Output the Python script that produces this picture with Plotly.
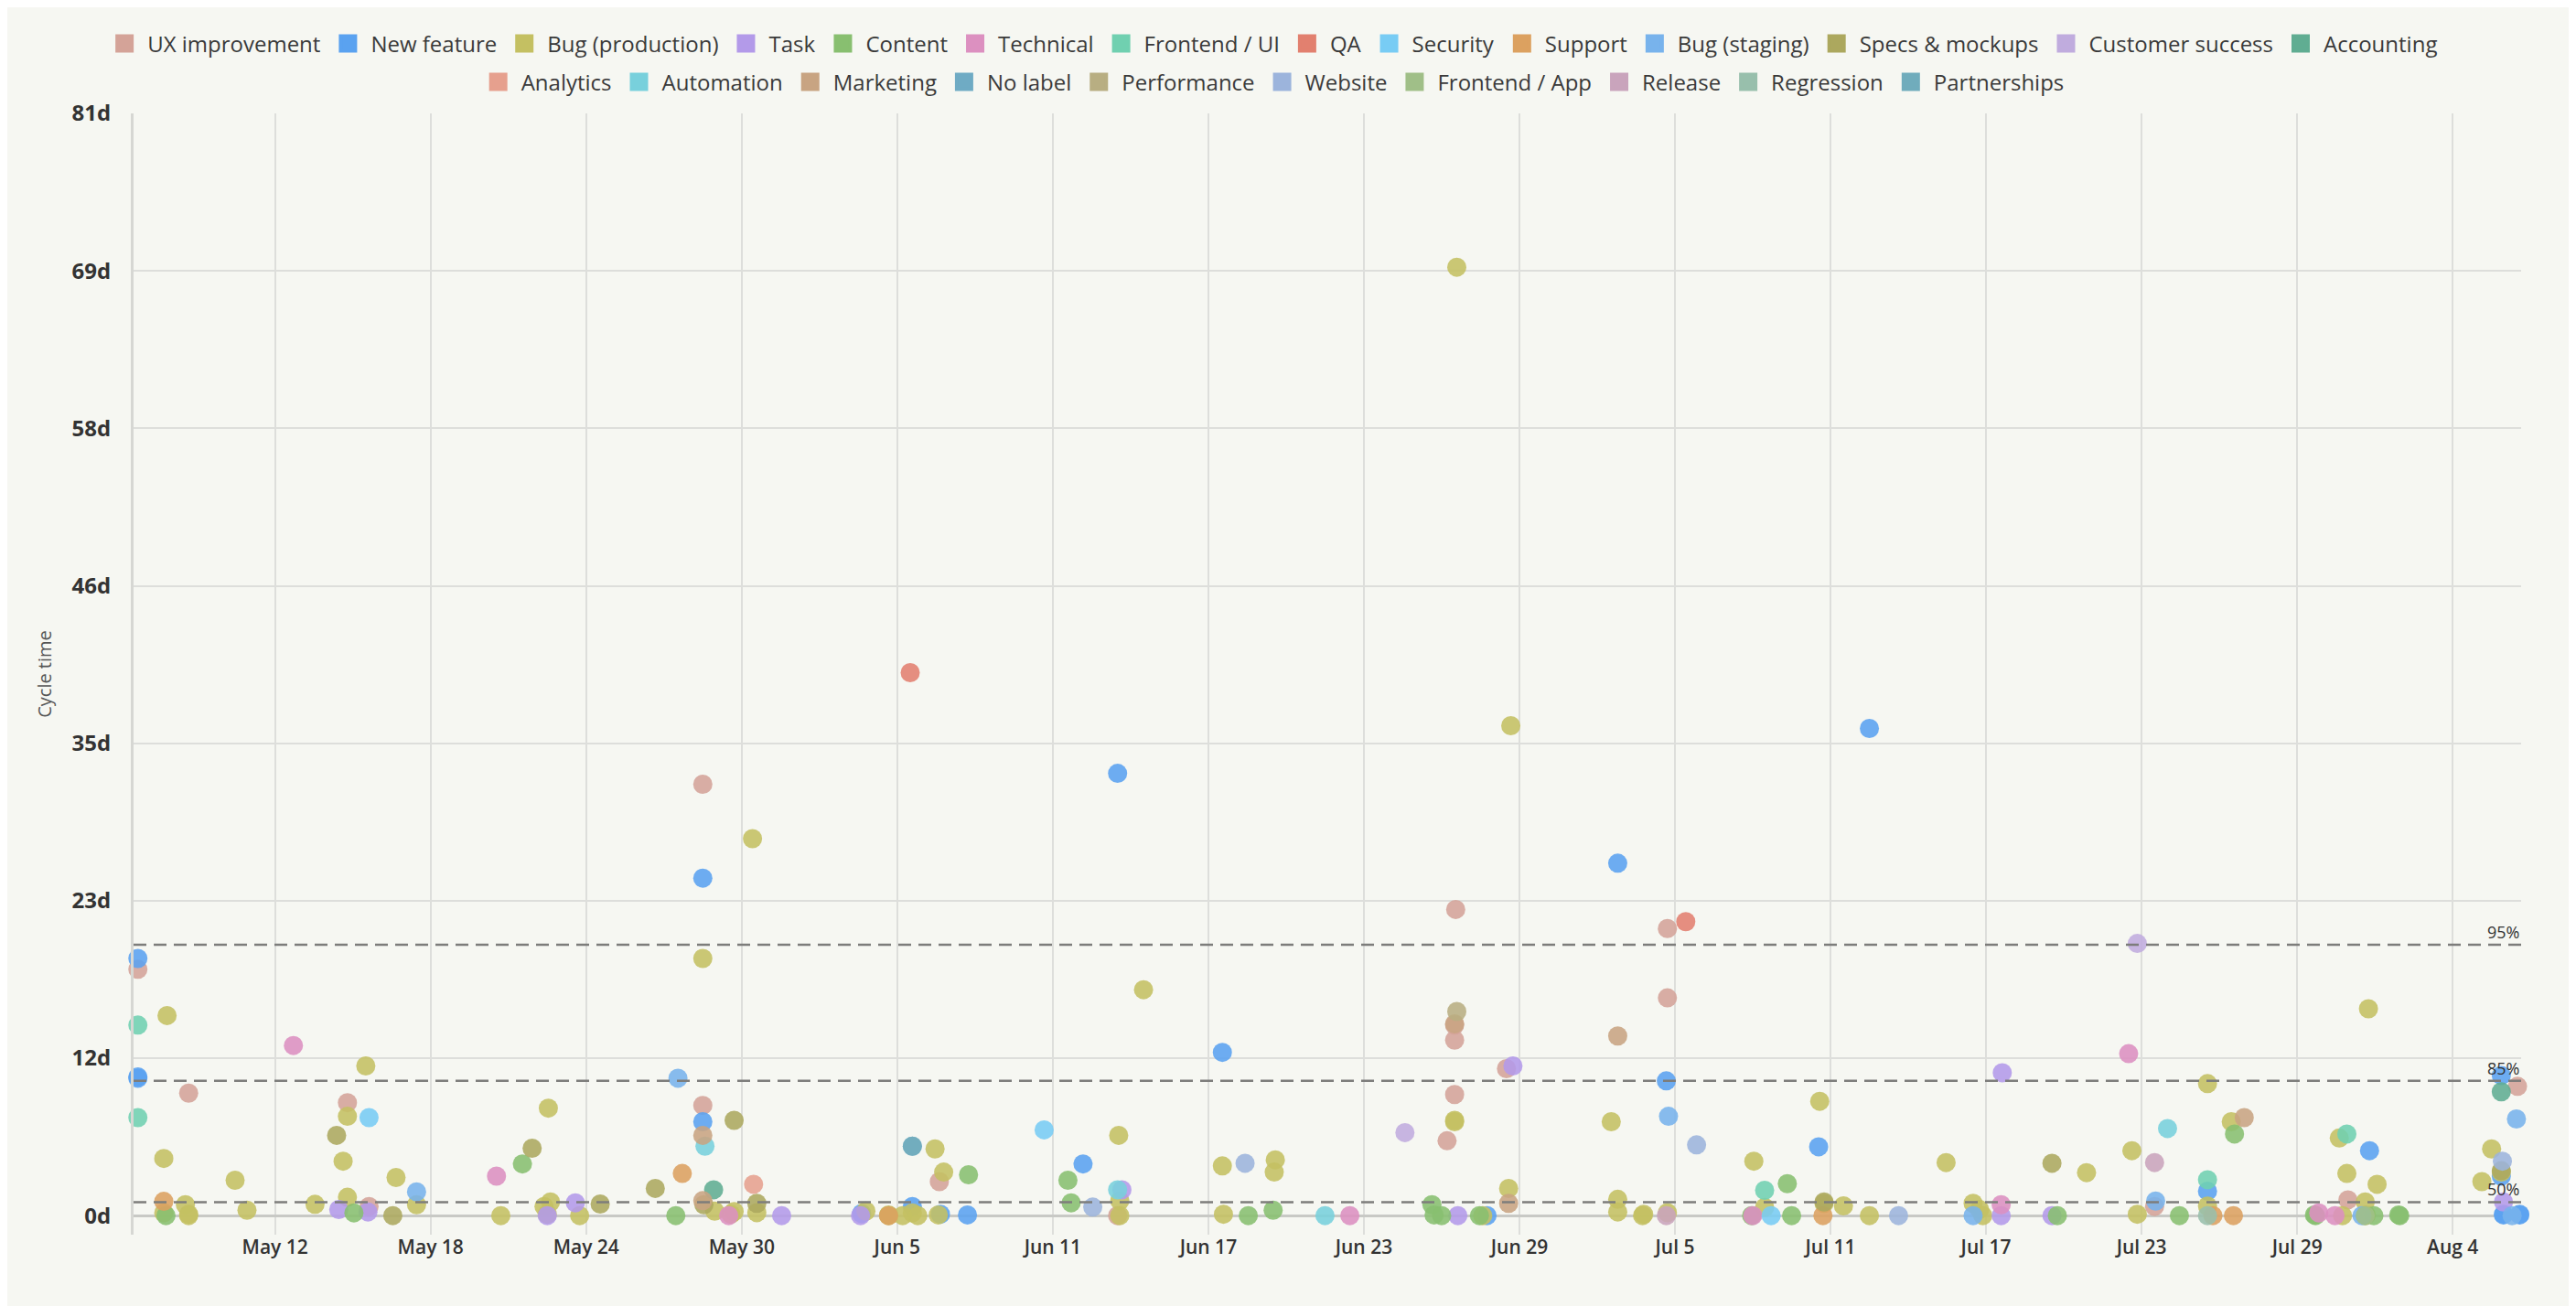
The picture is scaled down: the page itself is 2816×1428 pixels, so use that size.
import plotly.graph_objects as go

# ---------------- data (date finished, cycle time in days) ----------------
UX_IMPROVEMENT = [
    ("2025-05-06 17:00", 18.1), ("2025-05-08 16:00", 9.0), ("2025-05-14 19:00", 8.3),
    ("2025-05-15 15:00", 0.67), ("2025-05-28 12:00", 8.1), ("2025-05-28 12:00", 31.7),
    ("2025-06-06 15:00", 2.5), ("2025-06-13 12:00", 0.0), ("2025-06-26 05:00", 5.5),
    ("2025-06-26 12:00", 8.9), ("2025-06-26 12:00", 12.9), ("2025-06-26 12:00", 14.0),
    ("2025-06-26 13:00", 22.5), ("2025-06-28 12:00", 10.8), ("2025-07-04 17:00", 21.1),
    ("2025-07-04 17:00", 16.0), ("2025-07-23 12:00", 0.67), ("2025-07-30 23:00", 1.16),
    ("2025-08-06 12:00", 9.5),
]
NEW_FEATURE = [
    ("2025-05-06 17:00", 18.9), ("2025-05-06 17:00", 10.1), ("2025-05-06 17:00", 10.2),
    ("2025-05-28 12:00", 6.9), ("2025-05-28 12:00", 24.8), ("2025-06-03 15:00", 0.15),
    ("2025-06-05 14:00", 0.67), ("2025-06-06 16:00", 0.1), ("2025-06-07 17:00", 0.05),
    ("2025-06-12 04:00", 3.8), ("2025-06-13 12:00", 32.5), ("2025-06-17 13:00", 12.0),
    ("2025-06-27 18:00", 0.0), ("2025-07-02 19:00", 25.9), ("2025-07-04 16:00", 9.9),
    ("2025-07-10 13:00", 5.06), ("2025-07-12 12:00", 35.8), ("2025-07-25 13:00", 1.8),
    ("2025-07-31 19:00", 4.77), ("2025-08-05 21:00", 10.3), ("2025-08-05 21:00", 2.9),
    ("2025-08-05 23:00", 0.1), ("2025-08-05 23:00", 0.05), ("2025-08-06 14:00", 0.1),
    ("2025-08-06 14:00", 0.05),
]
BUG_PRODUCTION = [
    ("2025-05-07 20:00", 14.7), ("2025-05-07 17:00", 4.2), ("2025-05-07 17:00", 0.2),
    ("2025-05-08 13:00", 0.8), ("2025-05-08 16:00", 0.1), ("2025-05-08 16:00", 0.0),
    ("2025-05-10 11:00", 2.6), ("2025-05-10 22:00", 0.4), ("2025-05-13 13:00", 0.83),
    ("2025-05-14 15:00", 4.0), ("2025-05-14 19:00", 7.3), ("2025-05-14 19:00", 1.35),
    ("2025-05-15 12:00", 11.0), ("2025-05-16 16:00", 2.8), ("2025-05-17 11:00", 0.8),
    ("2025-05-20 17:00", 0.0), ("2025-05-22 09:00", 0.67), ("2025-05-22 13:00", 7.9),
    ("2025-05-22 15:00", 1.0), ("2025-05-22 12:00", 0.1), ("2025-05-23 18:00", 0.0),
    ("2025-05-28 12:00", 18.9), ("2025-05-28 23:00", 0.33), ("2025-05-29 14:00", 0.1),
    ("2025-05-29 17:00", 0.3), ("2025-05-30 10:00", 27.7), ("2025-05-30 14:00", 0.22),
    ("2025-06-03 19:00", 0.33), ("2025-06-04 16:00", 0.05), ("2025-06-04 16:00", 0.0),
    ("2025-06-05 05:00", 0.0), ("2025-06-05 14:00", 0.2), ("2025-06-05 19:00", 0.0),
    ("2025-06-06 11:00", 4.9), ("2025-06-06 19:00", 3.2), ("2025-06-06 14:00", 0.05),
    ("2025-06-13 13:00", 5.9), ("2025-06-13 14:00", 1.1), ("2025-06-13 14:00", 0.0),
    ("2025-06-14 12:00", 16.6), ("2025-06-17 13:00", 3.65), ("2025-06-17 14:00", 0.1),
    ("2025-06-19 14:00", 4.1), ("2025-06-19 13:00", 3.2), ("2025-06-26 12:00", 6.9),
    ("2025-06-26 12:00", 7.0), ("2025-06-26 14:00", 69.7), ("2025-06-27 14:00", 0.0),
    ("2025-06-28 14:00", 2.0), ("2025-06-28 16:00", 36.0), ("2025-07-02 13:00", 6.9),
    ("2025-07-02 19:00", 1.2), ("2025-07-02 19:00", 0.27), ("2025-07-03 18:00", 0.0),
    ("2025-07-03 19:00", 0.1), ("2025-07-04 17:00", 0.22), ("2025-07-08 01:00", 4.0),
    ("2025-07-08 11:00", 0.6), ("2025-07-10 14:00", 8.4), ("2025-07-10 18:00", 0.9),
    ("2025-07-11 12:00", 0.72), ("2025-07-12 12:00", 0.0), ("2025-07-15 11:00", 3.9),
    ("2025-07-16 12:00", 0.9), ("2025-07-16 18:00", 0.45), ("2025-07-16 21:00", 0.0),
    ("2025-07-20 21:00", 3.16), ("2025-07-22 15:00", 4.77), ("2025-07-22 20:00", 0.1),
    ("2025-07-25 13:00", 9.7), ("2025-07-25 13:00", 0.7), ("2025-07-26 11:00", 6.9),
    ("2025-07-30 18:00", 0.0), ("2025-07-30 15:00", 5.7), ("2025-07-30 22:00", 3.1),
    ("2025-08-01 02:00", 2.3), ("2025-07-31 18:00", 15.2), ("2025-07-31 15:00", 1.0),
    ("2025-07-31 15:00", 0.0), ("2025-07-31 16:00", 0.05), ("2025-08-05 12:00", 4.9),
    ("2025-08-05 21:00", 3.2), ("2025-08-05 03:00", 2.5),
]
TASK = [
    ("2025-05-14 11:00", 0.45), ("2025-05-15 14:00", 0.27), ("2025-05-22 12:00", 0.0),
    ("2025-05-23 14:00", 0.94), ("2025-05-31 13:00", 0.0), ("2025-06-03 14:00", 0.0),
    ("2025-06-13 16:00", 1.9), ("2025-06-26 15:00", 0.0), ("2025-06-28 18:00", 11.0),
    ("2025-07-17 14:00", 0.0), ("2025-07-17 15:00", 10.5), ("2025-07-19 13:00", 0.0),
    ("2025-08-05 23:00", 1.0),
]
CONTENT = [
    ("2025-05-07 19:00", 0.0), ("2025-05-15 01:00", 0.2), ("2025-05-21 13:00", 3.8),
    ("2025-05-27 11:00", 0.0), ("2025-06-07 18:00", 3.0), ("2025-06-11 14:00", 2.6),
    ("2025-06-11 17:00", 0.94), ("2025-06-18 13:00", 0.0), ("2025-06-19 12:00", 0.4),
    ("2025-06-25 15:00", 0.8), ("2025-06-25 17:00", 0.05), ("2025-06-26 00:00", 0.0),
    ("2025-06-27 11:00", 0.0), ("2025-07-07 23:00", 0.0), ("2025-07-09 08:00", 2.35),
    ("2025-07-09 12:00", 0.0), ("2025-07-19 18:00", 0.0), ("2025-07-24 11:00", 0.0),
    ("2025-07-26 14:00", 6.0), ("2025-07-29 17:00", 0.0), ("2025-07-29 16:00", 0.05),
    ("2025-07-31 23:00", 0.0), ("2025-08-01 23:00", 0.0), ("2025-08-01 22:00", 0.05),
]
TECHNICAL = [
    ("2025-05-12 17:00", 12.5), ("2025-05-20 13:00", 2.9), ("2025-05-29 12:00", 0.0),
    ("2025-06-22 11:00", 0.0), ("2025-07-08 00:00", 0.0), ("2025-07-17 14:00", 0.8),
    ("2025-07-22 12:00", 11.9), ("2025-07-29 20:00", 0.2), ("2025-07-30 11:00", 0.0),
]
FRONTEND_UI = [
    ("2025-05-06 17:00", 14.0), ("2025-05-06 17:00", 7.2), ("2025-07-08 11:00", 1.86),
    ("2025-07-25 13:00", 2.64), ("2025-07-30 22:00", 6.0),
]
QA = [("2025-06-05 12:00", 39.9), ("2025-07-05 10:00", 21.6)]
SECURITY = [("2025-05-15 15:00", 7.2), ("2025-06-10 16:00", 6.3), ("2025-07-08 17:00", 0.0)]
SUPPORT = [
    ("2025-05-07 17:00", 1.05), ("2025-05-27 17:00", 3.1), ("2025-06-04 16:00", 0.0),
    ("2025-07-10 17:00", 0.0), ("2025-07-25 18:00", 0.0), ("2025-07-26 13:00", 0.0),
]
BUG_STAGING = [
    ("2025-05-17 11:00", 1.75), ("2025-05-27 13:00", 10.1), ("2025-07-04 18:00", 7.3),
    ("2025-07-16 12:00", 0.0), ("2025-07-23 13:00", 1.07), ("2025-07-31 12:00", 0.0),
    ("2025-08-06 11:00", 7.1), ("2025-08-06 07:00", 0.0),
]
SPECS_MOCKUPS = [
    ("2025-05-14 09:00", 5.9), ("2025-05-16 13:00", 0.0), ("2025-05-21 22:00", 4.95),
    ("2025-05-24 13:00", 0.85), ("2025-05-26 16:00", 2.0), ("2025-05-28 13:00", 0.8),
    ("2025-05-29 17:00", 7.0), ("2025-05-30 14:00", 0.9), ("2025-07-10 18:00", 1.0),
    ("2025-07-19 13:00", 3.85), ("2025-08-05 21:00", 3.3),
]
CUSTOMER_SUCCESS = [("2025-06-24 14:00", 6.1), ("2025-07-22 20:00", 20.0)]
ACCOUNTING = [("2025-05-28 22:00", 1.9), ("2025-08-05 21:00", 9.1)]
ANALYTICS = [("2025-05-30 11:00", 2.3)]
AUTOMATION = [
    ("2025-05-28 14:00", 5.1), ("2025-06-13 12:00", 1.9), ("2025-06-21 12:00", 0.0),
    ("2025-07-24 00:00", 6.4),
]
MARKETING = [
    ("2025-05-28 12:00", 5.9), ("2025-05-28 12:00", 1.1), ("2025-06-26 12:00", 14.1),
    ("2025-06-28 14:00", 0.9), ("2025-07-02 19:00", 13.2), ("2025-07-26 23:00", 7.2),
]
NO_LABEL = [("2025-06-05 14:00", 5.1)]
PERFORMANCE = [("2025-06-26 14:00", 15.0)]
WEBSITE = [
    ("2025-06-12 13:00", 0.63), ("2025-06-18 10:00", 3.85), ("2025-07-05 20:00", 5.2),
    ("2025-07-13 15:00", 0.0), ("2025-08-05 22:00", 4.0),
]
FRONTEND_APP = [("2025-07-31 15:00", 0.0)]
RELEASE = [("2025-07-04 16:00", 0.0), ("2025-07-23 12:00", 3.9)]
REGRESSION = [("2025-07-25 13:00", 0.0)]
PARTNERSHIPS = [("2025-06-05 14:00", 5.1)]

CATEGORY_NAMES = [
    "UX improvement", "New feature", "Bug (production)", "Task", "Content", "Technical",
    "Frontend / UI", "QA", "Security", "Support", "Bug (staging)", "Specs & mockups",
    "Customer success", "Accounting", "Analytics", "Automation", "Marketing", "No label",
    "Performance", "Website", "Frontend / App", "Release", "Regression", "Partnerships",
]
CATEGORY_ITEMS = [
    UX_IMPROVEMENT, NEW_FEATURE, BUG_PRODUCTION, TASK, CONTENT, TECHNICAL, FRONTEND_UI, QA,
    SECURITY, SUPPORT, BUG_STAGING, SPECS_MOCKUPS, CUSTOMER_SUCCESS, ACCOUNTING, ANALYTICS,
    AUTOMATION, MARKETING, NO_LABEL, PERFORMANCE, WEBSITE, FRONTEND_APP, RELEASE, REGRESSION,
    PARTNERSHIPS,
]

PERCENTILE_LABELS = ["50%", "85%", "95%"]
PERCENTILE_VALUES = [0.99, 9.9, 19.9]

Y_TICK_TEXT = ["0d", "12d", "23d", "35d", "46d", "58d", "69d", "81d"]
Y_MAX = 81

X_RANGE = ["2025-05-06 13:00", "2025-08-06 15:20"]

# ---------------- styles ----------------
COLORS = [
    "#d4a398", "#5aa2f0", "#c4c062", "#b39ae9", "#88bf70", "#dc90c0", "#70d0b0", "#e2806f",
    "#78ccf4", "#dca160", "#78b3ec", "#aca85e", "#c0acde", "#60ad92", "#e6a08e", "#78d0dc",
    "#c8a482", "#6fabc4", "#b8ae82", "#9cb4dc", "#a0bf88", "#c9a4bc", "#98bfac", "#70acbc",
]
BG = "#f6f7f2"
FONT = "Open Sans"

fig = go.Figure()

for name, items, color in zip(CATEGORY_NAMES, CATEGORY_ITEMS, COLORS):
    fig.add_trace(go.Scatter(
        x=[d for d, _ in items], y=[v for _, v in items], mode="markers", name=name,
        legendgroup=name, showlegend=False, cliponaxis=False,
        marker=dict(size=21, color=color, opacity=0.88, line=dict(width=0)),
        hovertemplate="%{x|%b %-d}<br>%{y:.1f}d<extra>" + name + "</extra>",
    ))

# legend swatches (square), split into two centred rows
for i, (name, color) in enumerate(zip(CATEGORY_NAMES, COLORS)):
    fig.add_trace(go.Scatter(
        x=[None], y=[None], mode="markers", name=name, legendgroup=name,
        marker=dict(symbol="square", size=16, color=color, line=dict(width=4, color=color)),
        legend="legend" if i < 14 else "legend2", showlegend=True,
    ))

# percentile lines
for lab, val in zip(PERCENTILE_LABELS, PERCENTILE_VALUES):
    fig.add_shape(type="line", xref="paper", x0=0, x1=1, yref="y", y0=val, y1=val,
                  line=dict(color="#7d7d7b", width=2.5, dash="14px,8px"), layer="above")
    fig.add_annotation(xref="paper", x=1, xanchor="right", yref="y", y=val, yanchor="bottom",
                       text=lab, showarrow=False, yshift=0,
                       font=dict(family=FONT, size=18, color="#333333"))

tickvals = [i * Y_MAX / (len(Y_TICK_TEXT) - 1) for i in range(len(Y_TICK_TEXT))]

legend_common = dict(
    orientation="h", xref="container", yref="container", xanchor="center", yanchor="middle",
    font=dict(family=FONT, size=24, color="#3a3a3a"), bgcolor="rgba(0,0,0,0)",
    itemsizing="trace", itemwidth=40, itemclick=False, itemdoubleclick=False,
)

fig.update_layout(
    width=2816, height=1428,
    paper_bgcolor=BG, plot_bgcolor=BG,
    margin=dict(l=138, r=68, t=116, b=86, autoexpand=False),
    font=dict(family=FONT, color="#333333"),
    legend=dict(**legend_common, x=0.491, y=1 - 40 / 1428),
    legend2=dict(**legend_common, x=0.491, y=1 - 82 / 1428),
    xaxis=dict(
        type="date", range=X_RANGE, tick0="2025-05-12", dtick=6 * 86400000,
        tickformat="%b %-d", showgrid=True, gridcolor="#dddedb", gridwidth=1.5,
        zeroline=False, showline=False, ticks="", ticklabelstandoff=-1,
        tickfont=dict(family=FONT, size=21, color="#333333", weight=600),
    ),
    yaxis=dict(
        range=[-1.4, Y_MAX], tickvals=tickvals, ticktext=Y_TICK_TEXT,
        showgrid=True, gridcolor="#dddedb", gridwidth=1.5,
        zeroline=True, zerolinecolor="#c8c9c5", zerolinewidth=3,
        showline=True, linecolor="#d6d7d3", linewidth=3, ticks="", ticklabelstandoff=17,
        tickfont=dict(family=FONT, size=24, color="#333333", weight=700),
        title=dict(text="Cycle time", standoff=17,
                   font=dict(family=FONT, size=20, color="#555555")),
    ),
)

fig.write_html("out.html")
